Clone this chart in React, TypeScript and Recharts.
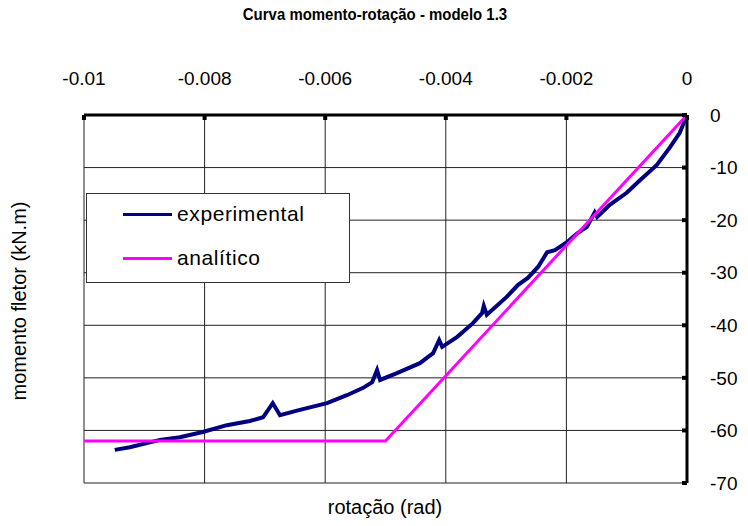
import { LineChart, Line, XAxis, YAxis, CartesianGrid } from 'recharts'

const FONT = '"Liberation Sans", Arial, sans-serif'
const NAVY = '#000080'
const MAGENTA = '#FF00FF'

// rotação (rad) / momento fletor (kN.m)
const expRot = [
  -0.00949, -0.00924, -0.00874, -0.00841, -0.00803, -0.00763, -0.00725, -0.00703,
  -0.00687, -0.00675, -0.00642, -0.00597, -0.00564, -0.00537, -0.00522, -0.00514,
  -0.00509, -0.00481, -0.00443, -0.00421, -0.00411, -0.00406, -0.00381, -0.00355,
  -0.0034, -0.00337, -0.00332, -0.00299, -0.0028, -0.00264, -0.00247, -0.00232,
  -0.00219, -0.00199, -0.00182, -0.00166, -0.00153, -0.00149, -0.00128, -0.001,
  -0.00078, -0.0005, -0.00028, -0.00012, 0,
]
const expMom = [
  -63.7, -63.2, -61.8, -61.3, -60.3, -59.0, -58.2, -57.5,
  -54.8, -57.1, -56.1, -54.8, -53.3, -51.9, -50.8, -48.5,
  -50.4, -49.1, -47.2, -45.3, -42.8, -44.1, -42.2, -39.6,
  -37.7, -36.3, -38.0, -34.6, -32.3, -31.0, -28.9, -26.1,
  -25.7, -24.2, -22.5, -21.3, -18.5, -19.4, -17.1, -14.8,
  -12.4, -9.5, -6.1, -3.4, 0,
]

const anaRot = [-0.01, -0.005, 0]
const anaMom = [-62, -62, 0]

const xTicks = [-0.01, -0.008, -0.006, -0.004, -0.002, 0]
const yTicks = [0, -10, -20, -30, -40, -50, -60, -70]

const experimental = expRot.map((r, i) => ({ rot: r, mom: expMom[i] }))
const analitico = anaRot.map((r, i) => ({ rot: r, mom: anaMom[i] }))

const legendItems = [
  { name: 'experimental', color: NAVY },
  { name: 'analítico', color: MAGENTA },
]

export default function App() {
  return (
    <div style={{ position: 'absolute', left: 0, top: 0, width: 748, height: 526, background: '#fff' }}>
      <div style={{
        position: 'absolute', left: 0, top: 5, width: 750, textAlign: 'center',
        fontFamily: FONT, fontWeight: 'bold', fontSize: 17, color: '#000',
        transform: 'scaleX(0.88)',
      }}>
        Curva momento-rotação - modelo 1.3
      </div>
      <div style={{ position: 'absolute', left: 19, top: 301, width: 0, height: 0 }}>
        <div style={{
          position: 'absolute', transform: 'translate(-50%, -50%) rotate(-90deg)',
          whiteSpace: 'nowrap', fontFamily: FONT, fontSize: 20, color: '#000',
        }}>
          momento fletor (kN.m)
        </div>
      </div>
      <div style={{
        position: 'absolute', left: 0, top: 496, width: 770, textAlign: 'center',
        fontFamily: FONT, fontSize: 20, color: '#000',
      }}>
        rotação (rad)
      </div>
      <LineChart
        width={748}
        height={526}
        margin={{ top: 55, right: 0, bottom: 43, left: 84 }}
        style={{ fontFamily: FONT }}
      >
        <CartesianGrid stroke="#222" strokeWidth={1} />
        <XAxis
          dataKey="rot"
          type="number"
          orientation="top"
          domain={[-0.01, 0]}
          ticks={xTicks}
          height={60}
          allowDataOverflow
          axisLine={{ stroke: '#000', strokeWidth: 3 }}
          tickLine={{ stroke: '#000', strokeWidth: 4 }}
          tickSize={-5}
          tickMargin={35}
          tick={{ fill: '#000', fontSize: 19 }}
        />
        <YAxis
          dataKey="mom"
          type="number"
          orientation="right"
          domain={[-70, 0]}
          ticks={yTicks}
          width={61}
          axisLine={{ stroke: '#000', strokeWidth: 3 }}
          tickLine={{ stroke: '#000', strokeWidth: 4 }}
          tickSize={-5}
          tickMargin={28}
          tick={{ fill: '#000', fontSize: 19 }}
        />
        <Line
          data={experimental}
          dataKey="mom"
          name="experimental"
          type="linear"
          stroke={NAVY}
          strokeWidth={4}
          dot={false}
          isAnimationActive={false}
        />
        <Line
          data={analitico}
          dataKey="mom"
          name="analítico"
          type="linear"
          stroke={MAGENTA}
          strokeWidth={3}
          dot={false}
          isAnimationActive={false}
        />
      </LineChart>
      <div style={{
        position: 'absolute', left: 86, top: 193, width: 264, height: 90, background: '#fff',
        border: '1px solid #333', boxSizing: 'border-box', fontFamily: FONT, fontSize: 21, color: '#000',
      }}>
        {legendItems.map((it, i) => (
          <div key={it.name} style={{
            position: 'absolute', left: 0, top: 0 + i * 44, height: 40,
            display: 'flex', alignItems: 'center',
          }}>
            <div style={{ width: 49, height: 3, background: it.color, marginLeft: 36, marginRight: 5 }} />
            <span style={{ letterSpacing: 0.6 }}>{it.name}</span>
          </div>
        ))}
      </div>
    </div>
  )
}
